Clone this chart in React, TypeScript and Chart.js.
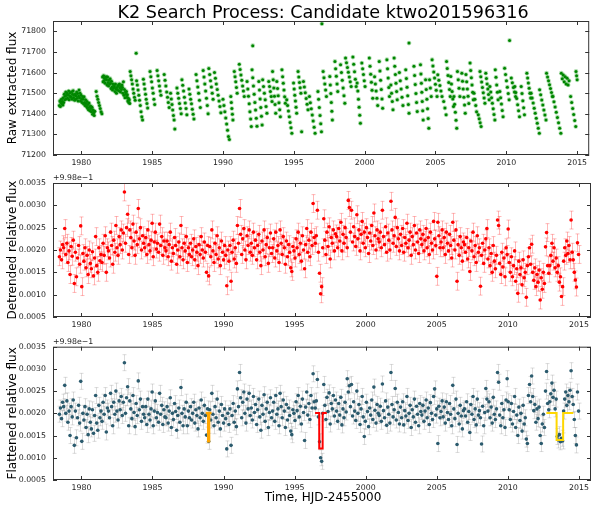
import React, { useEffect, useRef } from "react";
import { Chart, registerables } from "chart.js";

Chart.register(...registerables);

const FONT = '"DejaVu Sans", "Bitstream Vera Sans", sans-serif';

const chartTitle = "K2 Search Process: Candidate ktwo201596316";
const rawTitle = "Raw extracted flux";
const detTitle = "Detrended relative flux";
const flatTitle = "Flattened relative flux";
const xTitle = "Time, HJD-2455000";
const fluxOffsetText = "+9.98e\u22121";

const xMin = 1978;
const xMax = 2015.85;
const xTicks = [1980, 1985, 1990, 1995, 2000, 2005, 2010, 2015];
const rawTicks = [71200, 71300, 71400, 71500, 71600, 71700, 71800];
const rawMin = 71200;
const rawMax = 71850;
const relTicks = [0.0005, 0.001, 0.0015, 0.002, 0.0025, 0.003, 0.0035];
const relMin = 0.0005;
const relMax = 0.0035;

// Raw flux: each streak (start time, end time, flux readings along it)
const rawStreakStart = [
  1978.45, 1978.72, 1979.0, 1979.28, 1979.56, 1979.84, 1980.12, 1980.4, 1980.68, 1981.05,
  1981.5, 1981.78, 1982.06, 1982.34, 1982.62, 1982.9, 1983.18, 1983.45, 1983.87, 1983.9,
  1984.38, 1984.85, 1985.35, 1985.85, 1986.3, 1986.75, 1987.1, 1987.6, 1988.1, 1988.6,
  1989.0, 1989.4, 1990.0, 1990.55, 1990.8, 1991.15, 1991.7, 1992.1, 1992.05, 1992.53,
  1992.8, 1993.23, 1993.5, 1993.8, 1994.16, 1994.5, 1994.98, 1995.3, 1995.68, 1996.1,
  1996.7, 1996.98, 1997.07, 1997.54, 1997.9, 1998.3, 1998.65, 1999.17, 1999.47, 1999.8,
  2000.33, 2000.7, 2001.03, 2001.57, 2001.85, 2002.08, 2002.45, 2002.9, 2003.13, 2003.48,
  2003.94, 2004.3, 2004.58, 2004.76, 2005.16, 2005.58, 2005.78, 2006.08, 2006.3, 2006.55,
  2006.86, 2007.15, 2007.44, 2007.72, 2008.02, 2008.14, 2008.55, 2008.84, 2009.22, 2009.54,
  2009.88, 2010.23, 2010.35, 2010.6, 2011.05, 2011.45, 2011.75, 2012.35, 2012.84, 2013.28,
  2013.88, 2014.54, 2014.92,
];
const rawStreakEnd = [
  1978.7, 1978.97, 1979.25, 1979.53, 1979.81, 1980.09, 1980.37, 1980.65, 1980.95, 1981.45,
  1981.75, 1982.03, 1982.31, 1982.59, 1982.87, 1983.15, 1983.42, 1983.8, 1983.87, 1984.32,
  1984.68, 1985.18, 1985.62, 1986.2, 1986.6, 1987.05, 1987.45, 1987.95, 1988.4, 1988.95,
  1989.3, 1989.85, 1990.45, 1990.7, 1991.0, 1991.5, 1992.0, 1992.1, 1992.4, 1992.76,
  1993.1, 1993.46, 1993.72, 1994.05, 1994.4, 1994.86, 1995.2, 1995.55, 1996.0, 1996.5,
  1996.95, 1996.98, 1997.3, 1997.72, 1998.1, 1998.6, 1999.05, 1999.4, 1999.7, 2000.03,
  2000.57, 2000.92, 2001.27, 2001.75, 2002.0, 2002.3, 2002.7, 2003.13, 2003.13, 2003.71,
  2004.13, 2004.53, 2004.7, 2005.11, 2005.46, 2005.75, 2006.04, 2006.27, 2006.5, 2006.72,
  2007.1, 2007.35, 2007.67, 2007.9, 2008.22, 2008.49, 2008.79, 2009.19, 2009.42, 2009.77,
  2010.2, 2010.23, 2010.65, 2010.93, 2011.28, 2011.72, 2012.33, 2012.8, 2013.26, 2013.85,
  2014.43, 2014.9, 2015.0,
];
const rawStreakFlux: number[][] = [
  [71440, 71462, 71435, 71455, 71470, 71448, 71460, 71442],
  [71478, 71455, 71495, 71468, 71485, 71505, 71472, 71490],
  [71500, 71475, 71492, 71510, 71468, 71488, 71502, 71480],
  [71482, 71505, 71470, 71495, 71512, 71478, 71490, 71465],
  [71495, 71470, 71488, 71505, 71475, 71498, 71462, 71485],
  [71515, 71478, 71500, 71462, 71490, 71472, 71455, 71482],
  [71470, 71448, 71482, 71455, 71440, 71468, 71450, 71435],
  [71460, 71428, 71445, 71420, 71452, 71432, 71415, 71438],
  [71425, 71410, 71432, 71398, 71418, 71405, 71392, 71412],
  [71508, 71485, 71470, 71455, 71440, 71425, 71410, 71400],
  [71578, 71555, 71585, 71560, 71572, 71548, 71568, 71580],
  [71565, 71540, 71578, 71552, 71535, 71562, 71545, 71570],
  [71548, 71522, 71558, 71530, 71515, 71545, 71525, 71538],
  [71530, 71508, 71545, 71520, 71500, 71528, 71515, 71535],
  [71538, 71512, 71545, 71525, 71505, 71532, 71518, 71540],
  [71528, 71500, 71555, 71490, 71518, 71478, 71505, 71495],
  [71508, 71480, 71492, 71462, 71475, 71455, 71468, 71450],
  [71605, 71585, 71565, 71545, 71520, 71500, 71480, 71465],
  [71694],
  [71560, 71540, 71515, 71490, 71465, 71440, 71410, 71385, 71370],
  [71568, 71545, 71520, 71495, 71470, 71450, 71428],
  [71605, 71580, 71555, 71525, 71500, 71470, 71445],
  [71610, 71585, 71560, 71535, 71510, 71490],
  [71590, 71562, 71535, 71505, 71480, 71455, 71430],
  [71500, 71472, 71445, 71418, 71392, 71370, 71326],
  [71525, 71500, 71475, 71450, 71425, 71400],
  [71565, 71538, 71510, 71480, 71452, 71425, 71395],
  [71520, 71495, 71470, 71448, 71422, 71398, 71375],
  [71590, 71560, 71530, 71500, 71465, 71430],
  [71610, 71578, 71545, 71510, 71475, 71440, 71400],
  [71620, 71590, 71560, 71530, 71500, 71470],
  [71600, 71572, 71545, 71518, 71490, 71462, 71435, 71405],
  [71470, 71440, 71410, 71380, 71350, 71320, 71290, 71275],
  [71484, 71455, 71425, 71398, 71370],
  [71605, 71580, 71555, 71528, 71500],
  [71640, 71615, 71588, 71562, 71535, 71510, 71484],
  [71557, 71520, 71485, 71448, 71410, 71375, 71338],
  [71730],
  [71613, 71575, 71535, 71495, 71455, 71418, 71378, 71340],
  [71557, 71515, 71472, 71430, 71388, 71346],
  [71565, 71532, 71500, 71468, 71435, 71403],
  [71557, 71532, 71508, 71484, 71460],
  [71605, 71565, 71525, 71485, 71445, 71403],
  [71557, 71522, 71488, 71454, 71420, 71386],
  [71613, 71580, 71548, 71515, 71483, 71451],
  [71468, 71440, 71413, 71386, 71358, 71332, 71305],
  [71549, 71520, 71490, 71462, 71432, 71403],
  [71605, 71578, 71552, 71526, 71500, 71313],
  [71557, 71530, 71502, 71474, 71446, 71419],
  [71484, 71454, 71424, 71394, 71365, 71335, 71305],
  [71508, 71470, 71430, 71392, 71352, 71313],
  [71837],
  [71605, 71575, 71545, 71515, 71484],
  [71581, 71540, 71498, 71455, 71412, 71370],
  [71654, 71618, 71582, 71545, 71508],
  [71638, 71600, 71562, 71525, 71488, 71451],
  [71670, 71648, 71625, 71602, 71578, 71555, 71532],
  [71675, 71640, 71604, 71568, 71532],
  [71549, 71510, 71471, 71432, 71393, 71354],
  [71646, 71618, 71590, 71560, 71532],
  [71670, 71631, 71592, 71553, 71514, 71475],
  [71580, 71545, 71510, 71475, 71440],
  [71654, 71608, 71562, 71518, 71472, 71427],
  [71662, 71618, 71573, 71528, 71484],
  [71540, 71500, 71460, 71420],
  [71670, 71630, 71590, 71548, 71508, 71468],
  [71600, 71560, 71520, 71480, 71440],
  [71613, 71571, 71529, 71487, 71445, 71403],
  [71743],
  [71630, 71586, 71542, 71498, 71455, 71411],
  [71638, 71593, 71548, 71504, 71460, 71415, 71370],
  [71565, 71518, 71471, 71424, 71377, 71330],
  [71565, 71525, 71484],
  [71662, 71632, 71603, 71573, 71543, 71514, 71484],
  [71589, 71563, 71537, 71510, 71484],
  [71460, 71428, 71395],
  [71654, 71620, 71586, 71552, 71518, 71484],
  [71581, 71544, 71508, 71472, 71435],
  [71484, 71446, 71407, 71368, 71330],
  [71605, 71565, 71524, 71484],
  [71597, 71558, 71520, 71480, 71442, 71403],
  [71590, 71555, 71520, 71485, 71450],
  [71646, 71610, 71575, 71540, 71504, 71468],
  [71500, 71470, 71440, 71410],
  [71395, 71376, 71357, 71338],
  [71605, 71580, 71554, 71528, 71502, 71477, 71451],
  [71597, 71571, 71545, 71520, 71494, 71468],
  [71532, 71505, 71478, 71451, 71424, 71397, 71370],
  [71613, 71577, 71540, 71504, 71468],
  [71508, 71478, 71447, 71416, 71386],
  [71621, 71590, 71560, 71529, 71498, 71468],
  [71756],
  [71573, 71550, 71528, 71506, 71484],
  [71532, 71503, 71474, 71444, 71415, 71386],
  [71532, 71498, 71463, 71429, 71395],
  [71597, 71573, 71549, 71524, 71500, 71476],
  [71500, 71476, 71452, 71427, 71403, 71378, 71354, 71330, 71305],
  [71516, 71492, 71467, 71443, 71418, 71394, 71370],
  [71597, 71578, 71560, 71541, 71522, 71503, 71484],
  [71484, 71458, 71433, 71407, 71382, 71356, 71330, 71305],
  [71597, 71570, 71588, 71555, 71580, 71545, 71572, 71540, 71560],
  [71484, 71455, 71426, 71396, 71367, 71338],
  [71605, 71585, 71565],
];

// Relative flux (units of 1e-5, offset +9.98e-1), sampled every fluxCadence days
const fluxStart = 1978.45;
const fluxCadence = 0.075;
const detrended = [
  185, 200, 178, 212, 205, 248, 190, 215, 172, 198, 145, 208, 186, 222, 125, 195, 140, 182, 210, 168,
  254, 118, 192, 175, 205, 160, 188, 145, 200, 170, 158, 196, 142, 182, 230, 165, 150, 205, 176, 190,
  172, 215, 188, 232, 150, 205, 198, 182, 240, 210, 168, 222, 195, 255, 205, 188, 230, 212, 245, 200,
  238, 330, 215, 250, 280, 190, 245, 228, 205, 258, 220, 188, 240, 212, 293, 225, 250, 200, 232, 215,
  205, 228, 190, 245, 212, 198, 222, 260, 185, 218, 240, 202, 215, 195, 258, 210, 230, 188, 220, 205,
  198, 220, 185, 212, 240, 175, 205, 192, 228, 210, 168, 200, 218, 185, 255, 205, 178, 215, 198, 230,
  172, 205, 190, 215, 185, 200, 225, 178, 208, 195, 165, 212, 190, 230, 200, 182, 218, 195, 150, 210,
  142, 208, 185, 245, 198, 172, 215, 190, 232, 180, 205, 165, 220, 195, 178, 210, 188, 120, 200, 175,
  210, 130, 195, 222, 180, 205, 170, 255, 215, 293, 235, 190, 225, 248, 200, 178, 232, 210, 245, 195,
  215, 188, 240, 205, 222, 178, 210, 235, 195, 165, 220, 200, 245, 185, 212, 228, 170, 205, 238, 192,
  205, 225, 182, 240, 198, 210, 172, 245, 215, 190, 230, 205, 168, 220, 185, 212, 195, 160, 152, 208,
  198, 182, 225, 205, 240, 190, 215, 175, 232, 200, 158, 212, 248, 195, 222, 185, 240, 210, 304, 228,
  215, 232, 289, 195, 148, 102, 118, 205, 270, 222, 190, 240, 208, 252, 180, 228, 215, 245, 198, 236,
  230, 205, 248, 220, 262, 198, 235, 215, 250, 228, 205, 311, 295, 240, 289, 218, 252, 230, 208, 279,
  225, 245, 198, 235, 264, 215, 240, 205, 250, 228, 192, 238, 220, 255, 210, 283, 232, 200, 245, 225,
  218, 240, 205, 289, 230, 212, 252, 195, 238, 222, 200, 309, 245, 215, 232, 273, 208, 250, 225, 198,
  235, 210, 248, 195, 228, 215, 260, 205, 222, 240, 188, 230, 212, 255, 200, 238, 218, 192, 245, 225,
  212, 235, 198, 222, 248, 205, 228, 190, 240, 215, 200, 264, 225, 210, 141, 262, 232, 205, 218, 245,
  205, 228, 190, 240, 215, 198, 235, 210, 182, 262, 222, 200, 245, 130, 212, 188, 230, 205, 175, 218,
  212, 195, 228, 180, 205, 152, 220, 198, 240, 185, 210, 172, 232, 195, 205, 119, 188, 215, 170, 200,
  225, 248, 180, 205, 165, 192, 150, 210, 175, 158, 188, 267, 255, 170, 145, 195, 162, 182, 140, 205,
  190, 247, 172, 150, 185, 140, 165, 198, 130, 158, 103, 175, 145, 160, 122, 178, 138, 150, 94, 165,
  185, 205, 168, 213, 150, 132, 160, 118, 145, 128, 155, 88, 138, 112, 150, 125, 207, 239, 165, 148,
  165, 188, 215, 175, 205, 160, 182, 150, 165, 128, 140, 96, 118, 175, 205, 188, 220, 192, 210, 178,
  267, 195, 178, 150, 133, 117, 216, 190,
];
const flattened = [
  198, 212, 188, 225, 215, 263, 200, 228, 180, 205, 150, 215, 192, 230, 128, 205, 145, 190, 218, 178,
  272, 137, 200, 185, 215, 168, 198, 152, 210, 180, 165, 208, 155, 195, 240, 178, 162, 218, 190, 205,
  182, 225, 198, 240, 158, 212, 205, 190, 245, 215, 172, 225, 198, 250, 205, 185, 228, 208, 238, 195,
  225, 314, 200, 235, 260, 172, 228, 210, 188, 240, 202, 170, 222, 195, 273, 208, 232, 182, 215, 198,
  190, 215, 175, 232, 198, 185, 210, 248, 172, 205, 228, 190, 202, 180, 245, 198, 218, 175, 208, 192,
  190, 215, 178, 205, 235, 168, 200, 186, 222, 204, 162, 195, 212, 180, 258, 200, 172, 210, 192, 225,
  172, 205, 190, 215, 185, 200, 225, 178, 208, 195, 165, 212, 190, 230, 200, 182, 218, 195, 151, 210,
  137, 208, 185, 245, 198, 172, 215, 190, 232, 180, 205, 165, 220, 195, 178, 210, 188, 120, 200, 175,
  210, 128, 195, 222, 180, 205, 170, 255, 215, 292, 235, 190, 225, 248, 200, 178, 232, 210, 245, 195,
  212, 185, 238, 202, 220, 175, 208, 232, 192, 162, 218, 198, 242, 182, 210, 225, 168, 202, 235, 190,
  205, 225, 182, 240, 198, 210, 172, 245, 215, 190, 230, 205, 168, 220, 185, 212, 195, 160, 152, 208,
  200, 184, 226, 206, 240, 192, 216, 176, 232, 202, 139, 214, 248, 196, 222, 186, 240, 212, 289, 226,
  212, 228, 276, 192, 136, 100, 92, 200, 265, 218, 186, 236, 204, 246, 176, 222, 210, 240, 194, 230,
  205, 182, 222, 196, 236, 174, 210, 190, 225, 203, 278, 248, 262, 215, 265, 194, 226, 205, 184, 250,
  200, 220, 175, 210, 238, 192, 148, 182, 225, 204, 170, 212, 196, 230, 186, 259, 207, 178, 220, 200,
  195, 216, 182, 266, 206, 190, 228, 173, 214, 198, 178, 292, 220, 192, 208, 256, 185, 225, 202, 176,
  214, 190, 226, 174, 206, 194, 238, 184, 200, 218, 168, 208, 192, 232, 180, 216, 198, 172, 222, 204,
  196, 218, 182, 205, 230, 190, 212, 175, 224, 200, 186, 238, 255, 196, 210, 132, 216, 190, 204, 228,
  192, 214, 178, 226, 202, 186, 222, 198, 172, 263, 210, 188, 232, 130, 200, 176, 218, 194, 165, 206,
  210, 194, 226, 180, 204, 157, 220, 198, 238, 186, 210, 174, 232, 196, 206, 190, 131, 216, 172, 202,
  256, 232, 205, 226, 190, 214, 178, 236, 198, 186, 210, 292, 270, 196, 172, 222, 190, 208, 168, 230,
  278, 226, 208, 186, 222, 176, 204, 238, 168, 196, 150, 214, 184, 200, 160, 218, 176, 190, 142, 132,
  240, 265, 226, 284, 238, 206, 220, 180, 210, 188, 214, 150, 132, 176, 198, 168, 250, 294, 222, 208,
  226, 244, 268, 236, 252, 210, 232, 148, 140, 152, 136, 144, 138, 205, 232, 248, 218, 240, 226, 252,
  296, 238, 220, 186, 150, 129, 248, 205,
];
const detrendedErr = 20;
const flattenedErr = 18;
const fluxUnit = 1e-5;

// Transit models drawn on the flattened panel
const transitCenter = [1988.95, 1996.85, 2013.66];
const transitHalfDuration = [0.03, 0.12, 0.23];
const transitDepth = [64, 80, 61];
const transitWindow = [0.2, 0.41, 0.95];
const transitBaseline = 201;
const transitColors = ["#ffa500", "#ff0000", "#ffd700"];
const transitWidths = [2.5, 2, 2];

const rawPoints = rawStreakFlux.flatMap((vals, i) =>
  vals.map((v, k) => ({
    x:
      vals.length > 1
        ? rawStreakStart[i] + ((rawStreakEnd[i] - rawStreakStart[i]) * k) / (vals.length - 1)
        : rawStreakStart[i],
    y: v,
  }))
);
const fluxTimes = detrended.map((_, i) => fluxStart + i * fluxCadence);
const detPoints = detrended.map((v, i) => ({ x: fluxTimes[i], y: v * fluxUnit }));
const flatPoints = flattened.map((v, i) => ({ x: fluxTimes[i], y: v * fluxUnit }));
const transitLines = transitCenter.map((c, i) => {
  const top = transitBaseline * fluxUnit;
  const bot = (transitBaseline - transitDepth[i]) * fluxUnit;
  const w = transitWindow[i];
  const d = transitHalfDuration[i];
  return [
    { x: c - w, y: top },
    { x: c - d, y: top },
    { x: c - d, y: bot },
    { x: c + d, y: bot },
    { x: c + d, y: top },
    { x: c + w, y: top },
  ];
});

const errorBarPlugin = {
  id: "errorBars",
  beforeDatasetsDraw(chart: any) {
    const { ctx, chartArea: a } = chart;
    const xs = chart.scales.x;
    const ys = chart.scales.y;
    ctx.save();
    ctx.beginPath();
    ctx.rect(a.left, a.top, a.right - a.left, a.bottom - a.top);
    ctx.clip();
    chart.data.datasets.forEach((ds: any) => {
      if (!ds.errorBar) return;
      ctx.strokeStyle = ds.errorBar.color;
      ctx.lineWidth = 1;
      ds.data.forEach((p: any) => {
        const x = Math.round(xs.getPixelForValue(p.x)) + 0.5;
        const y1 = ys.getPixelForValue(p.y - ds.errorBar.err);
        const y2 = ys.getPixelForValue(p.y + ds.errorBar.err);
        ctx.beginPath();
        ctx.moveTo(x, y1);
        ctx.lineTo(x, y2);
        ctx.moveTo(x - 2, y1);
        ctx.lineTo(x + 2, y1);
        ctx.moveTo(x - 2, y2);
        ctx.lineTo(x + 2, y2);
        ctx.stroke();
      });
    });
    ctx.restore();
  },
};

const framePlugin = {
  id: "frame",
  afterDatasetsDraw(chart: any) {
    const { ctx, chartArea: a } = chart;
    const xs = chart.scales.x;
    const ys = chart.scales.y;
    ctx.save();
    ctx.strokeStyle = "#333";
    ctx.lineWidth = 1;
    ctx.strokeRect(a.left + 0.5, a.top + 0.5, a.right - a.left - 1, a.bottom - a.top - 1);
    ctx.beginPath();
    xs.ticks.forEach((t: any) => {
      const px = Math.round(xs.getPixelForValue(t.value)) + 0.5;
      ctx.moveTo(px, a.bottom);
      ctx.lineTo(px, a.bottom - 4);
      ctx.moveTo(px, a.top);
      ctx.lineTo(px, a.top + 4);
    });
    ys.ticks.forEach((t: any) => {
      const py = Math.round(ys.getPixelForValue(t.value)) + 0.5;
      ctx.moveTo(a.left, py);
      ctx.lineTo(a.left + 4, py);
      ctx.moveTo(a.right, py);
      ctx.lineTo(a.right - 4, py);
    });
    ctx.stroke();
    ctx.restore();
  },
};

const textPlugin = {
  id: "panelText",
  afterDraw(chart: any, _args: any, opts: any) {
    const { ctx, chartArea: a } = chart;
    ctx.save();
    ctx.fillStyle = "#000";
    if (opts.yTitle) {
      ctx.save();
      ctx.translate(opts.yTitleX, (a.top + a.bottom) / 2);
      ctx.rotate(-Math.PI / 2);
      ctx.font = `12px ${FONT}`;
      ctx.textAlign = "center";
      ctx.textBaseline = "middle";
      ctx.fillText(opts.yTitle, 0, 0);
      ctx.restore();
    }
    if (opts.title) {
      ctx.font = `17.6px ${FONT}`;
      ctx.textAlign = "center";
      ctx.textBaseline = "alphabetic";
      ctx.fillText(opts.title, (a.left + a.right) / 2 + 2, opts.titleY);
    }
    if (opts.offset) {
      ctx.fillStyle = "#222";
      ctx.font = `7.8px ${FONT}`;
      ctx.textAlign = "left";
      ctx.textBaseline = "alphabetic";
      ctx.fillText(opts.offset, a.left, a.top - 3);
    }
    if (opts.xTitle) {
      ctx.fillStyle = "#000";
      ctx.font = `12px ${FONT}`;
      ctx.textAlign = "center";
      ctx.textBaseline = "middle";
      ctx.fillText(opts.xTitle, (a.left + a.right) / 2 + 1, opts.xTitleY);
    }
    ctx.restore();
  },
};

type PanelSpec = {
  top: number;
  height: number;
  padTop: number;
  plotHeight: number;
  datasets: any[];
  yMin: number;
  yMax: number;
  yTicks: number[];
  yFormat: (v: number) => string;
  text: any;
};

function makeConfig(p: PanelSpec): any {
  const tickFont = { family: FONT, size: 7.8 };
  return {
    type: "scatter",
    data: { datasets: p.datasets },
    plugins: [errorBarPlugin, framePlugin, textPlugin],
    options: {
      responsive: false,
      maintainAspectRatio: false,
      animation: false,
      events: [],
      layout: { padding: { top: p.padTop, left: 0, right: 0, bottom: 0 } },
      plugins: {
        legend: { display: false },
        tooltip: { enabled: false },
        panelText: p.text,
      },
      scales: {
        x: {
          type: "linear",
          position: "bottom",
          min: xMin,
          max: xMax,
          afterBuildTicks: (s: any) => {
            s.ticks = xTicks.map((v) => ({ value: v }));
          },
          afterFit: (s: any) => {
            s.height = p.height - p.padTop - p.plotHeight;
          },
          grid: { display: false, drawTicks: false },
          border: { display: false },
          ticks: {
            font: tickFont,
            color: "#222",
            padding: 3,
            maxRotation: 0,
            autoSkip: false,
            callback: (v: number) => String(v),
          },
        },
        y: {
          type: "linear",
          position: "left",
          min: p.yMin,
          max: p.yMax,
          afterBuildTicks: (s: any) => {
            s.ticks = p.yTicks.map((v) => ({ value: v }));
          },
          afterFit: (s: any) => {
            s.width = 53;
          },
          grid: { display: false, drawTicks: false },
          border: { display: false },
          ticks: {
            font: tickFont,
            color: "#222",
            padding: 7,
            autoSkip: false,
            callback: (v: number) => p.yFormat(v),
          },
        },
      },
    },
  };
}

const panels: PanelSpec[] = [
  {
    top: 0,
    height: 170,
    padTop: 21,
    plotHeight: 134,
    yMin: rawMin,
    yMax: rawMax,
    yTicks: rawTicks,
    yFormat: (v) => String(v),
    text: { yTitle: rawTitle, yTitleX: 13, title: chartTitle, titleY: 18 },
    datasets: [
      {
        data: rawPoints,
        pointRadius: 1.5,
        backgroundColor: "#008000",
        borderColor: "rgba(0,150,0,0.3)",
        borderWidth: 1.8,
      },
    ],
  },
  {
    top: 170,
    height: 165,
    padTop: 13,
    plotHeight: 134,
    yMin: relMin,
    yMax: relMax,
    yTicks: relTicks,
    yFormat: (v) => v.toFixed(4),
    text: { yTitle: detTitle, yTitleX: 12.5, offset: fluxOffsetText },
    datasets: [
      {
        data: detPoints,
        pointRadius: 1.8,
        backgroundColor: "#ff0000",
        borderWidth: 0,
        errorBar: { err: detrendedErr * fluxUnit, color: "rgba(255,0,0,0.28)" },
      },
    ],
  },
  {
    top: 335,
    height: 175,
    padTop: 10,
    plotHeight: 135,
    yMin: relMin,
    yMax: relMax,
    yTicks: relTicks,
    yFormat: (v) => v.toFixed(4),
    text: {
      yTitle: flatTitle,
      yTitleX: 12.5,
      offset: fluxOffsetText,
      xTitle: xTitle,
      xTitleY: 162.5,
    },
    datasets: [
      ...transitLines.map((pts, i) => ({
        data: pts,
        showLine: true,
        borderColor: transitColors[i],
        borderWidth: transitWidths[i],
        pointRadius: 0,
        fill: false,
      })),
      {
        data: flatPoints,
        pointRadius: 1.8,
        backgroundColor: "#2b5b6e",
        borderWidth: 0,
        errorBar: { err: flattenedErr * fluxUnit, color: "rgba(140,140,140,0.3)" },
      },
    ],
  },
];

function Panel({ spec }: { spec: PanelSpec }) {
  const ref = useRef<HTMLCanvasElement | null>(null);
  useEffect(() => {
    if (!ref.current) return;
    const chart = new Chart(ref.current, makeConfig(spec));
    return () => chart.destroy();
  }, [spec]);
  return (
    <canvas
      ref={ref}
      width={595}
      height={spec.height}
      style={{ position: "absolute", left: 0, top: spec.top, width: 595, height: spec.height }}
    />
  );
}

export default function App() {
  return (
    <div
      style={{
        position: "fixed",
        left: 0,
        top: 0,
        width: 595,
        height: 510,
        background: "#fff",
        overflow: "hidden",
      }}
    >
      {panels.map((p, i) => (
        <Panel key={i} spec={p} />
      ))}
    </div>
  );
}
